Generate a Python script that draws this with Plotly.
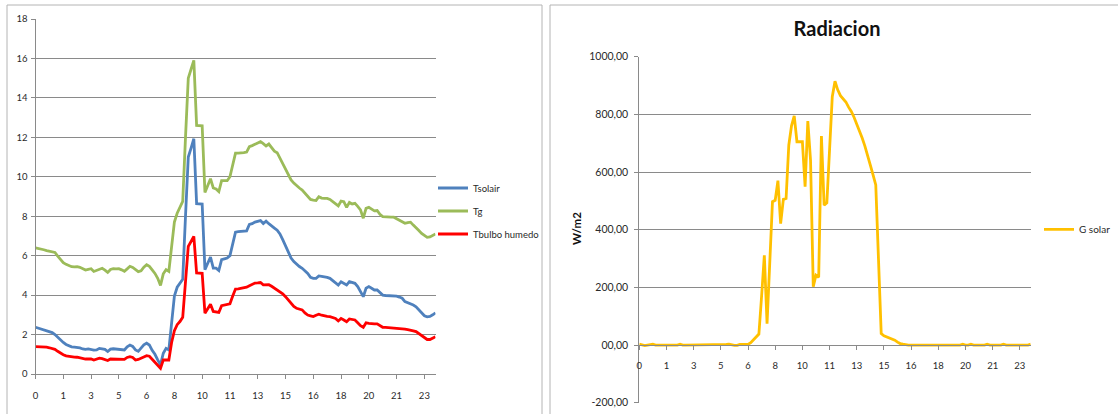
import plotly.graph_objects as go

# Muestras cada 10 minutos, de 0:00 a 24:00 (hora decimal)
hora = [m / 60 for m in range(0, 24 * 60 + 1, 10)]

# Etiquetas del eje horizontal (una cada 10 muestras)
etiquetas_x = ["0", "1", "3", "5", "6", "8", "10", "11", "13", "15", "16", "18", "20", "21", "23"]

t_solair = [
    2.37, 2.33, 2.28, 2.24, 2.20, 2.16,
    2.10, 2.00, 1.85, 1.72, 1.60, 1.50,
    1.42, 1.38, 1.36, 1.35, 1.32, 1.27,
    1.25, 1.27, 1.22, 1.21, 1.22, 1.30,
    1.28, 1.25, 1.14, 1.26, 1.28, 1.27,
    1.27, 1.24, 1.22, 1.38, 1.47, 1.40,
    1.22, 1.15, 1.30, 1.48, 1.56, 1.47,
    1.20, 1.00, 0.72, 0.46, 1.05, 1.30,
    1.22, 2.70, 3.95, 4.40, 4.62, 4.80,
    8.00, 11.00, 11.45, 11.93, 8.64, 8.64,
    8.62, 5.29, 5.60, 5.93, 5.37, 5.37,
    5.25, 5.80, 5.84, 5.88, 6.00, 6.60,
    7.19, 7.22, 7.24, 7.24, 7.26, 7.58,
    7.62, 7.70, 7.74, 7.78, 7.63, 7.75,
    7.62, 7.49, 7.40, 7.29, 7.10, 6.81,
    6.47, 6.20, 5.88, 5.70, 5.55, 5.45,
    5.36, 5.22, 5.10, 4.90, 4.85, 4.85,
    4.97, 4.95, 4.93, 4.90, 4.85, 4.72,
    4.62, 4.51, 4.68, 4.60, 4.51, 4.68,
    4.64, 4.60, 4.43, 4.15, 3.92, 4.35,
    4.43, 4.35, 4.26, 4.26, 4.12, 4.00,
    3.98, 3.97, 3.96, 3.95, 3.95, 3.90,
    3.84, 3.67, 3.62, 3.58, 3.50, 3.41,
    3.25, 3.08, 2.95, 2.90, 2.92, 3.00, 3.10,
]

t_g = [
    6.39, 6.37, 6.34, 6.30, 6.26, 6.22,
    6.19, 6.16, 5.98, 5.80, 5.65, 5.56,
    5.48, 5.44, 5.43, 5.44, 5.41, 5.34,
    5.27, 5.31, 5.34, 5.20, 5.26, 5.33,
    5.36, 5.27, 5.15, 5.30, 5.34, 5.33,
    5.34, 5.28, 5.21, 5.33, 5.46, 5.40,
    5.29, 5.19, 5.23, 5.42, 5.54, 5.46,
    5.28, 5.10, 4.85, 4.49, 5.08, 5.29,
    5.20, 6.35, 7.70, 8.15, 8.45, 8.75,
    12.00, 15.00, 15.45, 15.90, 12.60, 12.60,
    12.58, 9.20, 9.55, 9.90, 9.43, 9.38,
    9.25, 9.80, 9.80, 9.80, 10.00, 10.60,
    11.20, 11.20, 11.20, 11.22, 11.25, 11.53,
    11.58, 11.66, 11.72, 11.78, 11.68, 11.56,
    11.66, 11.45, 11.30, 11.22, 10.95, 10.68,
    10.43, 10.15, 9.84, 9.68, 9.53, 9.43,
    9.33, 9.15, 8.99, 8.85, 8.82, 8.80,
    8.99, 8.92, 8.90, 8.90, 8.85, 8.74,
    8.65, 8.52, 8.77, 8.74, 8.45, 8.70,
    8.62, 8.65, 8.50, 8.32, 7.90, 8.40,
    8.45, 8.35, 8.27, 8.29, 8.10, 7.98,
    7.96, 7.95, 7.95, 7.95, 7.88, 7.81,
    7.72, 7.64, 7.68, 7.70, 7.55, 7.39,
    7.28, 7.13, 7.02, 6.93, 6.95, 7.03, 7.10,
]

t_bulbo_humedo = [
    1.39, 1.39, 1.38, 1.37, 1.36, 1.33,
    1.30, 1.25, 1.15, 1.05, 0.98, 0.92,
    0.89, 0.87, 0.86, 0.85, 0.82, 0.78,
    0.76, 0.76, 0.76, 0.71, 0.74, 0.80,
    0.78, 0.72, 0.68, 0.76, 0.76, 0.76,
    0.76, 0.76, 0.74, 0.84, 0.88, 0.84,
    0.71, 0.74, 0.80, 0.90, 0.93, 0.90,
    0.75, 0.60, 0.45, 0.29, 0.71, 0.72,
    0.71, 1.60, 2.20, 2.50, 2.66, 2.88,
    4.70, 6.47, 6.72, 6.98, 5.12, 5.12,
    5.10, 3.08, 3.30, 3.54, 3.17, 3.15,
    3.12, 3.46, 3.50, 3.52, 3.56, 3.95,
    4.31, 4.32, 4.34, 4.36, 4.40, 4.47,
    4.53, 4.61, 4.62, 4.64, 4.52, 4.53,
    4.53, 4.45, 4.36, 4.25, 4.15, 4.07,
    3.92, 3.76, 3.55, 3.43, 3.33, 3.28,
    3.25, 3.10, 2.99, 2.95, 2.91, 2.98,
    3.03, 2.98, 2.94, 2.92, 2.91, 2.86,
    2.82, 2.69, 2.82, 2.74, 2.65, 2.79,
    2.76, 2.74, 2.60, 2.45, 2.37, 2.60,
    2.57, 2.54, 2.54, 2.54, 2.45, 2.37,
    2.36, 2.35, 2.34, 2.33, 2.33, 2.32,
    2.32, 2.28, 2.25, 2.23, 2.19, 2.15,
    2.05, 1.98, 1.85, 1.75, 1.75, 1.82, 1.89,
]

g_solar = [
    3, 1, -2, 0, 2, 3,
    0, 0, 0, 0, 0, 0,
    0, 0, 0, 3, 0, 0,
    0, 0, 0, 0, 0, 0,
    0, 0, 0, 0, 0, 0,
    0, 0, 2, 3, 0, -1,
    -1, 2, 2, 2, 2, 8,
    18, 28, 38, 170, 311, 74,
    290, 497, 502, 570, 421, 505,
    508, 693, 760, 795, 705, 705,
    705, 549, 777, 641, 202, 242,
    235, 725, 485, 493, 690, 861,
    915, 885, 865, 853, 843, 825,
    810, 790, 768, 745, 718, 690,
    660, 624, 590, 555, 298, 40,
    32, 28, 25, 20, 17, 10,
    5, 3, 1, 0, 0, 0,
    0, 0, 0, 0, 0, 0,
    0, 0, 0, 0, 0, 0,
    0, 0, 0, 0, 0, 3,
    0, 0, 3, 0, 0, 0,
    0, 0, 3, 0, 0, 0,
    0, 0, 3, 0, 0, 0,
    0, 0, 0, 0, 0, 0, 3,
]

valores_rad = [-200, 0, 200, 400, 600, 800, 1000]
etiquetas_rad = ["-200,00", "00,00", "200,00", "400,00", "600,00", "800,00", "1000,00"]

for serie in (t_solair, t_g, t_bulbo_humedo, g_solar):
    assert len(serie) == len(hora)

W, H = 1118, 414
FONT = "Lato"
TEXT = "#2a2a2a"
GRID = "#8a8a8a"
BORDE = "#b4b4b4"


def px(x):
    return x / W


def py(y):
    return 1 - y / H


fig = go.Figure()

series_temp = [
    ("Tsolair", t_solair, "#4F81BD"),
    ("Tg", t_g, "#9BBB59"),
    ("Tbulbo humedo", t_bulbo_humedo, "#FF0000"),
]
for nombre, valores, color in series_temp:
    fig.add_trace(go.Scatter(
        x=hora, y=valores, name=nombre, mode="lines",
        line=dict(color=color, width=2.8),
        xaxis="x", yaxis="y", legend="legend", legendgroup=nombre,
    ))

fig.add_trace(go.Scatter(
    x=hora, y=g_solar, name="G solar", mode="lines",
    line=dict(color="#FFC000", width=2.8),
    xaxis="x2", yaxis="y2", legend="legend2",
))

eje_comun = dict(
    showline=True, linecolor=GRID, linewidth=1,
    ticks="outside", ticklen=4, tickcolor=GRID,
    zeroline=False, automargin=False,
)

fig.update_layout(
    width=W, height=H, autosize=False,
    margin=dict(l=0, r=0, t=0, b=0, pad=0, autoexpand=False),
    paper_bgcolor="white", plot_bgcolor="white",
    font=dict(family=FONT, color=TEXT),
    xaxis=dict(
        eje_comun, domain=[px(35.5), px(435.5)], range=[0, 24], anchor="y",
        tickvals=hora[::10], ticktext=etiquetas_x, showgrid=False,
        tickfont=dict(size=9.5, color=TEXT), ticklabelstandoff=9,
    ),
    yaxis=dict(
        eje_comun, domain=[py(374), py(19)], range=[0, 18], anchor="x",
        dtick=2, showgrid=True, gridcolor=GRID, gridwidth=1,
        tickfont=dict(size=9.5, color=TEXT), ticklabelstandoff=1,
    ),
    xaxis2=dict(
        eje_comun, domain=[px(639.3), px(1030.7)], range=[0, 24],
        anchor="free", position=py(344.7),
        tickvals=hora[::10], ticktext=etiquetas_x, showgrid=False,
        tickfont=dict(size=9.5, color=TEXT), ticklabelstandoff=8,
    ),
    yaxis2=dict(
        eje_comun, domain=[py(402.7), py(56.7)], range=[-200, 1000], anchor="x2",
        tickvals=valores_rad, ticktext=etiquetas_rad,
        showgrid=True, gridcolor=GRID, gridwidth=1,
        tickfont=dict(size=10.5, color=TEXT), ticklabelstandoff=4,
    ),
    title=dict(
        text="Radiacion", x=px(837), y=py(28.5), xanchor="center", yanchor="middle",
        xref="paper", yref="paper", automargin=False,
        font=dict(family=FONT, size=20, color="#111111", weight="bold"),
    ),
    legend=dict(
        x=px(433), y=py(211), xanchor="left", yanchor="middle",
        font=dict(size=9.5, color=TEXT), bgcolor="rgba(0,0,0,0)",
        tracegroupgap=4, traceorder="grouped",
    ),
    legend2=dict(
        x=px(1039), y=py(229.3), xanchor="left", yanchor="middle",
        font=dict(size=10, color=TEXT), bgcolor="rgba(0,0,0,0)",
    ),
    showlegend=True,
    annotations=[
        dict(
            text="<b>W/m2</b>", x=px(576), y=py(229), xref="paper", yref="paper",
            textangle=-90, showarrow=False, xanchor="center", yanchor="middle",
            font=dict(family=FONT, size=11.5, color="#111111"),
        ),
    ],
    shapes=[
        # marco del grafico de temperaturas
        dict(type="line", xref="paper", yref="paper", x0=px(7), x1=px(7), y0=py(5), y1=py(420),
             line=dict(color=BORDE, width=1)),
        dict(type="line", xref="paper", yref="paper", x0=px(7), x1=px(542), y0=py(5), y1=py(5),
             line=dict(color=BORDE, width=1)),
        dict(type="line", xref="paper", yref="paper", x0=px(542), x1=px(542), y0=py(5), y1=py(420),
             line=dict(color=BORDE, width=1)),
        # marco del grafico de radiacion
        dict(type="line", xref="paper", yref="paper", x0=px(550), x1=px(550), y0=py(5), y1=py(420),
             line=dict(color=BORDE, width=1)),
        dict(type="line", xref="paper", yref="paper", x0=px(550), x1=px(1120), y0=py(5), y1=py(5),
             line=dict(color=BORDE, width=1)),
    ],
)

fig.write_html("out.html")
